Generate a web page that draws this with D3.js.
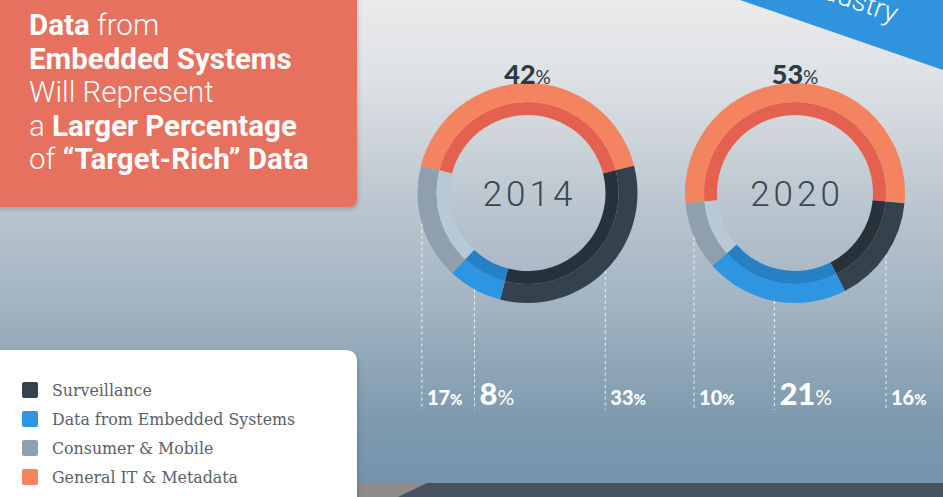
<!DOCTYPE html>
<html>
<head>
<meta charset="utf-8">
<script src="https://cdn.jsdelivr.net/npm/d3@7"></script>
<style>
  body { margin: 0; padding: 0; overflow: hidden; }
  svg { display: block; }
</style>
</head>
<body>
<div id="chart"></div>
<script>
// data
var categories = ["Surveillance", "Data from Embedded Systems", "Consumer & Mobile", "General IT & Metadata"];
var years = ["2014", "2020"];
var values2014 = [33, 8, 17, 42];
var values2020 = [16, 21, 10, 53];
var seriesValues = [values2014, values2020];

// ring order, clockwise from the left end of the orange arc
var ringOrder = [3, 0, 1, 2];

var colorOuter = ["#34424d", "#2d95e1", "#8f9fad", "#f4845f"];
var colorInner = ["#27323b", "#2680c6", "#b8c8d4", "#e5614f"];

var svgWidth = 943;
var svgHeight = 497;

var svg = d3.select("#chart")
    .append("svg")
    .attr("width", svgWidth)
    .attr("height", svgHeight);

// background
var defs = svg.append("defs");
var bg = defs.append("linearGradient")
    .attr("id", "bg")
    .attr("x1", 0).attr("y1", 0).attr("x2", 0).attr("y2", 1);
[[0, "#e9eaeb"], [0.15, "#dfe2e5"], [0.4, "#bcc7d0"], [0.62, "#a1b3c1"], [0.85, "#7d99ae"], [1, "#7293ab"]]
    .forEach(function(s) {
        bg.append("stop").attr("offset", s[0]).attr("stop-color", s[1]);
    });

var shadow = defs.append("filter").attr("id", "shadow")
    .attr("x", "-10%").attr("y", "-10%").attr("width", "130%").attr("height", "130%");
shadow.append("feDropShadow")
    .attr("dx", 1).attr("dy", 2).attr("stdDeviation", 2)
    .attr("flood-color", "#000").attr("flood-opacity", 0.18);

svg.append("rect")
    .attr("width", svgWidth)
    .attr("height", svgHeight)
    .attr("fill", "url(#bg)");

// floor strip at the bottom
svg.append("rect")
    .attr("x", 350).attr("y", 483)
    .attr("width", 80).attr("height", 14)
    .attr("fill", "#8f8b88");
svg.append("path")
    .attr("d", "M398,497 L427,483 L943,483 L943,497 Z")
    .attr("fill", "#46525f");

// blue banner in the top right corner
svg.append("path")
    .attr("d", "M740,0 L943,0 L943,70 Z")
    .attr("fill", "#2f93dd");
svg.append("text")
    .attr("transform", "translate(894,23) rotate(19)")
    .attr("text-anchor", "end")
    .attr("font-family", "Roboto")
    .attr("font-weight", 300)
    .attr("font-size", 28)
    .attr("fill", "#ffffff")
    .text("Industry");

// title box
svg.append("path")
    .attr("d", "M-10,-10 L357,-10 L357,199 Q357,207 349,207 L-10,207 Z")
    .attr("fill", "#e7715f")
    .attr("filter", "url(#shadow)");

var titleLines = [
    [["Data", 700], [" from", 300]],
    [["Embedded Systems", 700]],
    [["Will Represent", 300]],
    [["a ", 300], ["Larger Percentage", 700]],
    [["of ", 300], ["\u201cTarget-Rich\u201d Data", 700]]
];
var title = svg.append("text")
    .attr("font-family", "Roboto")
    .attr("font-size", 29.5)
    .attr("fill", "#ffffff");
titleLines.forEach(function(line, i) {
    line.forEach(function(part, j) {
        var t = title.append("tspan")
            .attr("font-weight", part[1])
            .text(part[0]);
        if (j === 0) t.attr("x", 29).attr("y", 35 + i * 33.5);
    });
});

// donuts
var xYear = d3.scalePoint()
    .domain(years)
    .range([527.5, 795]);
var cy = 193;
var rOuter = 110, rMid = 91, rInner = 78;

var outerArc = d3.arc().innerRadius(rMid).outerRadius(rOuter);
var innerArc = d3.arc().innerRadius(rInner).outerRadius(rMid);

years.forEach(function(year, yi) {
    var vals = seriesValues[yi];
    var ordered = ringOrder.map(function(k) { return { key: k, value: vals[k] }; });
    var start = -vals[3] / 100 * Math.PI;
    var pie = d3.pie()
        .sort(null)
        .value(function(d) { return d.value; })
        .startAngle(start)
        .endAngle(start + 2 * Math.PI);
    var arcs = pie(ordered);
    var cx = xYear(year);

    var g = svg.append("g")
        .attr("transform", "translate(" + cx + "," + cy + ")");

    g.selectAll("path.outer")
        .data(arcs)
        .enter()
        .append("path")
        .attr("class", "outer")
        .attr("d", outerArc)
        .attr("fill", function(d) { return colorOuter[d.data.key]; });

    g.selectAll("path.inner")
        .data(arcs)
        .enter()
        .append("path")
        .attr("class", "inner")
        .attr("d", innerArc)
        .attr("fill", function(d) { return colorInner[d.data.key]; });

    // year in the centre
    g.append("text")
        .attr("y", 13)
        .attr("text-anchor", "middle")
        .attr("font-family", "Roboto")
        .attr("font-weight", 300)
        .attr("font-size", 35)
        .attr("letter-spacing", 4)
        .attr("dx", 2)
        .attr("fill", "#3a4650")
        .text(year);

    // big percentage above
    var top = g.append("text")
        .attr("y", -109)
        .attr("text-anchor", "middle")
        .attr("font-family", "Lato")
        .attr("fill", "#2c3a44");
    top.append("tspan").attr("font-weight", 900).attr("font-size", 27).text(vals[3]);
    top.append("tspan").attr("font-weight", 400).attr("font-size", 19).text("%");

    // dashed leaders and labels for the other three segments
    arcs.filter(function(d) { return d.data.key !== 3; }).forEach(function(d) {
        var mid = (d.startAngle + d.endAngle) / 2;
        var lx = rOuter * Math.sin(mid);
        var ly = -rOuter * Math.cos(mid);
        g.append("line")
            .attr("x1", lx).attr("x2", lx)
            .attr("y1", ly).attr("y2", 217)
            .attr("stroke", "#ffffff")
            .attr("stroke-width", 1)
            .attr("stroke-dasharray", "3,3")
            .attr("opacity", 0.85);
        var big = d.data.key === 1;
        var lab = g.append("text")
            .attr("x", lx + 5)
            .attr("y", 212)
            .attr("font-family", "Lato")
            .attr("fill", "#ffffff");
        lab.append("tspan").attr("font-weight", 900).attr("font-size", big ? 31 : 20).text(d.data.value);
        lab.append("tspan").attr("font-weight", big ? 400 : 900).attr("font-size", big ? 21 : 15).text("%");
    });
});

// legend box
svg.append("path")
    .attr("d", "M-10,350 L345,350 Q357,350 357,362 L357,507 L-10,507 Z")
    .attr("fill", "#ffffff")
    .attr("filter", "url(#shadow)");

var legend = svg.selectAll("g.legend")
    .data(categories)
    .enter()
    .append("g")
    .attr("class", "legend")
    .attr("transform", function(d, i) { return "translate(22," + (390 + i * 29) + ")"; });

legend.append("rect")
    .attr("x", 0).attr("y", -8)
    .attr("width", 16).attr("height", 16)
    .attr("rx", 2)
    .attr("fill", function(d, i) { return colorOuter[i]; });

legend.append("text")
    .attr("x", 30)
    .attr("y", 5.5)
    .attr("font-family", "DejaVu Serif")
    .attr("font-size", 15.8)
    .attr("fill", "#5a6067")
    .text(function(d) { return d; });
</script>
</body>
</html>
